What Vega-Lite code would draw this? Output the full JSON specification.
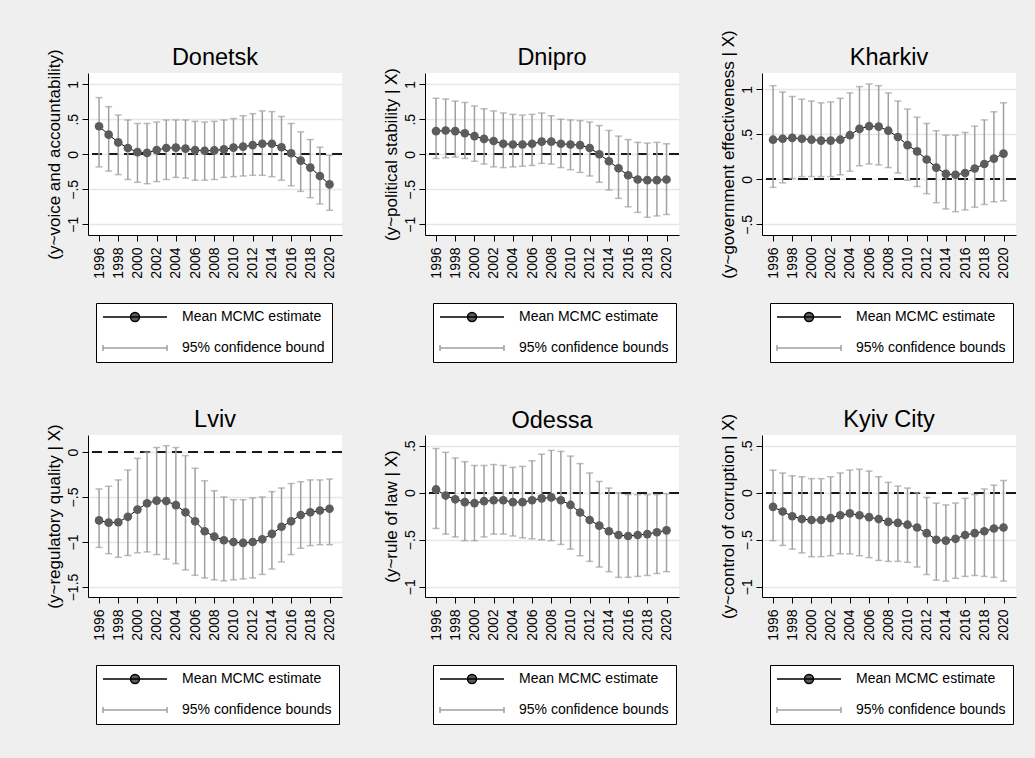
{
"$schema": "https://vega.github.io/schema/vega-lite/v6.json",
"padding": {"left": 44, "top": 29, "right": 20, "bottom": 40},
"datasets": {"d": [
{"region":"Donetsk","year":1996,"mean":0.40,"lo":-0.18,"hi":0.81},
{"region":"Donetsk","year":1997,"mean":0.28,"lo":-0.24,"hi":0.68},
{"region":"Donetsk","year":1998,"mean":0.17,"lo":-0.29,"hi":0.56},
{"region":"Donetsk","year":1999,"mean":0.09,"lo":-0.36,"hi":0.49},
{"region":"Donetsk","year":2000,"mean":0.03,"lo":-0.40,"hi":0.44},
{"region":"Donetsk","year":2001,"mean":0.02,"lo":-0.42,"hi":0.44},
{"region":"Donetsk","year":2002,"mean":0.06,"lo":-0.39,"hi":0.46},
{"region":"Donetsk","year":2003,"mean":0.09,"lo":-0.36,"hi":0.49},
{"region":"Donetsk","year":2004,"mean":0.095,"lo":-0.33,"hi":0.49},
{"region":"Donetsk","year":2005,"mean":0.08,"lo":-0.34,"hi":0.49},
{"region":"Donetsk","year":2006,"mean":0.06,"lo":-0.37,"hi":0.47},
{"region":"Donetsk","year":2007,"mean":0.05,"lo":-0.37,"hi":0.46},
{"region":"Donetsk","year":2008,"mean":0.055,"lo":-0.36,"hi":0.47},
{"region":"Donetsk","year":2009,"mean":0.07,"lo":-0.33,"hi":0.49},
{"region":"Donetsk","year":2010,"mean":0.095,"lo":-0.32,"hi":0.51},
{"region":"Donetsk","year":2011,"mean":0.11,"lo":-0.31,"hi":0.55},
{"region":"Donetsk","year":2012,"mean":0.13,"lo":-0.30,"hi":0.58},
{"region":"Donetsk","year":2013,"mean":0.15,"lo":-0.30,"hi":0.62},
{"region":"Donetsk","year":2014,"mean":0.15,"lo":-0.32,"hi":0.61},
{"region":"Donetsk","year":2015,"mean":0.10,"lo":-0.37,"hi":0.54},
{"region":"Donetsk","year":2016,"mean":0.015,"lo":-0.45,"hi":0.44},
{"region":"Donetsk","year":2017,"mean":-0.09,"lo":-0.53,"hi":0.32},
{"region":"Donetsk","year":2018,"mean":-0.19,"lo":-0.62,"hi":0.21},
{"region":"Donetsk","year":2019,"mean":-0.31,"lo":-0.71,"hi":0.10},
{"region":"Donetsk","year":2020,"mean":-0.43,"lo":-0.80,"hi":-0.015},
{"region":"Dnipro","year":1996,"mean":0.33,"lo":-0.06,"hi":0.80},
{"region":"Dnipro","year":1997,"mean":0.34,"lo":-0.05,"hi":0.79},
{"region":"Dnipro","year":1998,"mean":0.33,"lo":-0.04,"hi":0.76},
{"region":"Dnipro","year":1999,"mean":0.30,"lo":-0.06,"hi":0.74},
{"region":"Dnipro","year":2000,"mean":0.26,"lo":-0.10,"hi":0.69},
{"region":"Dnipro","year":2001,"mean":0.22,"lo":-0.14,"hi":0.65},
{"region":"Dnipro","year":2002,"mean":0.19,"lo":-0.18,"hi":0.62},
{"region":"Dnipro","year":2003,"mean":0.15,"lo":-0.19,"hi":0.59},
{"region":"Dnipro","year":2004,"mean":0.14,"lo":-0.18,"hi":0.57},
{"region":"Dnipro","year":2005,"mean":0.14,"lo":-0.17,"hi":0.56},
{"region":"Dnipro","year":2006,"mean":0.15,"lo":-0.16,"hi":0.57},
{"region":"Dnipro","year":2007,"mean":0.18,"lo":-0.13,"hi":0.59},
{"region":"Dnipro","year":2008,"mean":0.18,"lo":-0.14,"hi":0.55},
{"region":"Dnipro","year":2009,"mean":0.15,"lo":-0.19,"hi":0.50},
{"region":"Dnipro","year":2010,"mean":0.14,"lo":-0.22,"hi":0.49},
{"region":"Dnipro","year":2011,"mean":0.13,"lo":-0.26,"hi":0.48},
{"region":"Dnipro","year":2012,"mean":0.09,"lo":-0.31,"hi":0.46},
{"region":"Dnipro","year":2013,"mean":0.00,"lo":-0.40,"hi":0.41},
{"region":"Dnipro","year":2014,"mean":-0.10,"lo":-0.51,"hi":0.34},
{"region":"Dnipro","year":2015,"mean":-0.20,"lo":-0.63,"hi":0.26},
{"region":"Dnipro","year":2016,"mean":-0.30,"lo":-0.75,"hi":0.21},
{"region":"Dnipro","year":2017,"mean":-0.36,"lo":-0.83,"hi":0.17},
{"region":"Dnipro","year":2018,"mean":-0.37,"lo":-0.90,"hi":0.16},
{"region":"Dnipro","year":2019,"mean":-0.37,"lo":-0.88,"hi":0.17},
{"region":"Dnipro","year":2020,"mean":-0.36,"lo":-0.86,"hi":0.15},
{"region":"Kharkiv","year":1996,"mean":0.44,"lo":-0.09,"hi":1.04},
{"region":"Kharkiv","year":1997,"mean":0.45,"lo":-0.04,"hi":0.97},
{"region":"Kharkiv","year":1998,"mean":0.46,"lo":0.01,"hi":0.92},
{"region":"Kharkiv","year":1999,"mean":0.45,"lo":0.03,"hi":0.89},
{"region":"Kharkiv","year":2000,"mean":0.44,"lo":0.03,"hi":0.87},
{"region":"Kharkiv","year":2001,"mean":0.43,"lo":0.03,"hi":0.85},
{"region":"Kharkiv","year":2002,"mean":0.43,"lo":0.03,"hi":0.86},
{"region":"Kharkiv","year":2003,"mean":0.44,"lo":0.05,"hi":0.90},
{"region":"Kharkiv","year":2004,"mean":0.49,"lo":0.09,"hi":0.96},
{"region":"Kharkiv","year":2005,"mean":0.56,"lo":0.15,"hi":1.03},
{"region":"Kharkiv","year":2006,"mean":0.59,"lo":0.17,"hi":1.06},
{"region":"Kharkiv","year":2007,"mean":0.585,"lo":0.16,"hi":1.04},
{"region":"Kharkiv","year":2008,"mean":0.54,"lo":0.13,"hi":0.96},
{"region":"Kharkiv","year":2009,"mean":0.47,"lo":0.07,"hi":0.87},
{"region":"Kharkiv","year":2010,"mean":0.38,"lo":-0.01,"hi":0.78},
{"region":"Kharkiv","year":2011,"mean":0.31,"lo":-0.08,"hi":0.69},
{"region":"Kharkiv","year":2012,"mean":0.22,"lo":-0.16,"hi":0.62},
{"region":"Kharkiv","year":2013,"mean":0.13,"lo":-0.26,"hi":0.54},
{"region":"Kharkiv","year":2014,"mean":0.06,"lo":-0.33,"hi":0.49},
{"region":"Kharkiv","year":2015,"mean":0.05,"lo":-0.36,"hi":0.49},
{"region":"Kharkiv","year":2016,"mean":0.07,"lo":-0.34,"hi":0.52},
{"region":"Kharkiv","year":2017,"mean":0.12,"lo":-0.31,"hi":0.59},
{"region":"Kharkiv","year":2018,"mean":0.17,"lo":-0.28,"hi":0.66},
{"region":"Kharkiv","year":2019,"mean":0.23,"lo":-0.25,"hi":0.75},
{"region":"Kharkiv","year":2020,"mean":0.285,"lo":-0.24,"hi":0.85},
{"region":"Lviv","year":1996,"mean":-0.76,"lo":-1.06,"hi":-0.41},
{"region":"Lviv","year":1997,"mean":-0.785,"lo":-1.13,"hi":-0.38},
{"region":"Lviv","year":1998,"mean":-0.78,"lo":-1.17,"hi":-0.31},
{"region":"Lviv","year":1999,"mean":-0.72,"lo":-1.15,"hi":-0.20},
{"region":"Lviv","year":2000,"mean":-0.64,"lo":-1.12,"hi":-0.07},
{"region":"Lviv","year":2001,"mean":-0.57,"lo":-1.11,"hi":0.00},
{"region":"Lviv","year":2002,"mean":-0.54,"lo":-1.14,"hi":0.05},
{"region":"Lviv","year":2003,"mean":-0.545,"lo":-1.19,"hi":0.07},
{"region":"Lviv","year":2004,"mean":-0.59,"lo":-1.24,"hi":0.05},
{"region":"Lviv","year":2005,"mean":-0.67,"lo":-1.31,"hi":-0.04},
{"region":"Lviv","year":2006,"mean":-0.77,"lo":-1.37,"hi":-0.18},
{"region":"Lviv","year":2007,"mean":-0.88,"lo":-1.40,"hi":-0.32},
{"region":"Lviv","year":2008,"mean":-0.94,"lo":-1.42,"hi":-0.43},
{"region":"Lviv","year":2009,"mean":-0.98,"lo":-1.43,"hi":-0.50},
{"region":"Lviv","year":2010,"mean":-1.00,"lo":-1.42,"hi":-0.53},
{"region":"Lviv","year":2011,"mean":-1.01,"lo":-1.41,"hi":-0.53},
{"region":"Lviv","year":2012,"mean":-1.00,"lo":-1.40,"hi":-0.51},
{"region":"Lviv","year":2013,"mean":-0.97,"lo":-1.36,"hi":-0.50},
{"region":"Lviv","year":2014,"mean":-0.91,"lo":-1.30,"hi":-0.44},
{"region":"Lviv","year":2015,"mean":-0.83,"lo":-1.22,"hi":-0.40},
{"region":"Lviv","year":2016,"mean":-0.77,"lo":-1.14,"hi":-0.35},
{"region":"Lviv","year":2017,"mean":-0.70,"lo":-1.07,"hi":-0.33},
{"region":"Lviv","year":2018,"mean":-0.67,"lo":-1.04,"hi":-0.31},
{"region":"Lviv","year":2019,"mean":-0.65,"lo":-1.03,"hi":-0.31},
{"region":"Lviv","year":2020,"mean":-0.63,"lo":-1.03,"hi":-0.30},
{"region":"Odessa","year":1996,"mean":0.035,"lo":-0.38,"hi":0.47},
{"region":"Odessa","year":1997,"mean":-0.03,"lo":-0.44,"hi":0.43},
{"region":"Odessa","year":1998,"mean":-0.07,"lo":-0.47,"hi":0.37},
{"region":"Odessa","year":1999,"mean":-0.10,"lo":-0.51,"hi":0.33},
{"region":"Odessa","year":2000,"mean":-0.11,"lo":-0.51,"hi":0.29},
{"region":"Odessa","year":2001,"mean":-0.09,"lo":-0.47,"hi":0.29},
{"region":"Odessa","year":2002,"mean":-0.08,"lo":-0.44,"hi":0.30},
{"region":"Odessa","year":2003,"mean":-0.08,"lo":-0.44,"hi":0.29},
{"region":"Odessa","year":2004,"mean":-0.10,"lo":-0.46,"hi":0.27},
{"region":"Odessa","year":2005,"mean":-0.10,"lo":-0.48,"hi":0.28},
{"region":"Odessa","year":2006,"mean":-0.08,"lo":-0.49,"hi":0.34},
{"region":"Odessa","year":2007,"mean":-0.06,"lo":-0.50,"hi":0.41},
{"region":"Odessa","year":2008,"mean":-0.05,"lo":-0.51,"hi":0.45},
{"region":"Odessa","year":2009,"mean":-0.08,"lo":-0.55,"hi":0.44},
{"region":"Odessa","year":2010,"mean":-0.13,"lo":-0.60,"hi":0.39},
{"region":"Odessa","year":2011,"mean":-0.21,"lo":-0.67,"hi":0.31},
{"region":"Odessa","year":2012,"mean":-0.29,"lo":-0.73,"hi":0.21},
{"region":"Odessa","year":2013,"mean":-0.35,"lo":-0.79,"hi":0.12},
{"region":"Odessa","year":2014,"mean":-0.41,"lo":-0.84,"hi":0.05},
{"region":"Odessa","year":2015,"mean":-0.45,"lo":-0.90,"hi":0.00},
{"region":"Odessa","year":2016,"mean":-0.46,"lo":-0.90,"hi":-0.02},
{"region":"Odessa","year":2017,"mean":-0.45,"lo":-0.89,"hi":-0.02},
{"region":"Odessa","year":2018,"mean":-0.44,"lo":-0.88,"hi":-0.02},
{"region":"Odessa","year":2019,"mean":-0.42,"lo":-0.86,"hi":-0.02},
{"region":"Odessa","year":2020,"mean":-0.40,"lo":-0.84,"hi":-0.01},
{"region":"Kyiv City","year":1996,"mean":-0.15,"lo":-0.51,"hi":0.24},
{"region":"Kyiv City","year":1997,"mean":-0.20,"lo":-0.56,"hi":0.21},
{"region":"Kyiv City","year":1998,"mean":-0.25,"lo":-0.60,"hi":0.18},
{"region":"Kyiv City","year":1999,"mean":-0.28,"lo":-0.64,"hi":0.17},
{"region":"Kyiv City","year":2000,"mean":-0.29,"lo":-0.68,"hi":0.15},
{"region":"Kyiv City","year":2001,"mean":-0.29,"lo":-0.68,"hi":0.15},
{"region":"Kyiv City","year":2002,"mean":-0.27,"lo":-0.67,"hi":0.17},
{"region":"Kyiv City","year":2003,"mean":-0.24,"lo":-0.65,"hi":0.21},
{"region":"Kyiv City","year":2004,"mean":-0.22,"lo":-0.65,"hi":0.24},
{"region":"Kyiv City","year":2005,"mean":-0.24,"lo":-0.67,"hi":0.25},
{"region":"Kyiv City","year":2006,"mean":-0.26,"lo":-0.69,"hi":0.23},
{"region":"Kyiv City","year":2007,"mean":-0.28,"lo":-0.72,"hi":0.17},
{"region":"Kyiv City","year":2008,"mean":-0.31,"lo":-0.73,"hi":0.11},
{"region":"Kyiv City","year":2009,"mean":-0.32,"lo":-0.73,"hi":0.07},
{"region":"Kyiv City","year":2010,"mean":-0.34,"lo":-0.74,"hi":0.05},
{"region":"Kyiv City","year":2011,"mean":-0.37,"lo":-0.79,"hi":0.00},
{"region":"Kyiv City","year":2012,"mean":-0.43,"lo":-0.87,"hi":-0.05},
{"region":"Kyiv City","year":2013,"mean":-0.50,"lo":-0.93,"hi":-0.11},
{"region":"Kyiv City","year":2014,"mean":-0.51,"lo":-0.94,"hi":-0.13},
{"region":"Kyiv City","year":2015,"mean":-0.49,"lo":-0.91,"hi":-0.11},
{"region":"Kyiv City","year":2016,"mean":-0.45,"lo":-0.89,"hi":-0.06},
{"region":"Kyiv City","year":2017,"mean":-0.43,"lo":-0.88,"hi":-0.02},
{"region":"Kyiv City","year":2018,"mean":-0.41,"lo":-0.89,"hi":0.04},
{"region":"Kyiv City","year":2019,"mean":-0.38,"lo":-0.90,"hi":0.08},
{"region":"Kyiv City","year":2020,"mean":-0.37,"lo":-0.94,"hi":0.13}
]},
"data": {"name": "d"},
"columns": 3,
"spacing": {"row": 200, "column": 83},
"bounds": "flush",
"resolve": {"scale": {"y": "independent", "stroke": "independent"}, "legend": {"stroke": "independent"}},
"concat": [
{"title": {"text": "Donetsk", "offset": -21}, "width": 254, "height": 162,
 "transform": [{"filter": "datum.region == 'Donetsk'"}],
 "layer": [
  {"mark": {"type": "rule", "strokeDash": [10, 6], "color": "#1a1a1a", "strokeWidth": 1},
   "encoding": {"y": {"datum": 0, "type": "quantitative", "scale": {"domain": [-1.153, 1.161], "nice": false, "zero": false}, "axis": {"title": "(y~voice and accountability)", "values": [-1, -0.5, 0, 0.5, 1]}}}},
  {"mark": {"type": "rule", "strokeWidth": 1.5},
   "encoding": {"x": {"field": "year", "type": "quantitative", "scale": {"domain": [1994.85, 2021.3], "nice": false, "zero": false}, "axis": {"values": [1996,1998,2000,2002,2004,2006,2008,2010,2012,2014,2016,2018,2020], "format": "d", "title": null}},
    "y": {"field": "lo", "type": "quantitative", "scale": {"domain": [-1.153, 1.161], "nice": false, "zero": false}},
    "y2": {"field": "hi"},
    "stroke": {"datum": "95% confidence bound", "scale": {"domain": ["Mean MCMC estimate", "95% confidence bound"], "range": ["black", "#a0a0a0"]},
      "legend": {"title": null, "orient": "none", "legendX": 8, "legendY": 230, "direction": "vertical", "symbolType": "M-16,0H16",
        "encode": {"symbols": {"update": {
          "shape": {"signal": "datum.value == 'Mean MCMC estimate' ? 'M-16,0H16M2.25,0A2.25,2.25 0 1,1 -2.25,0A2.25,2.25 0 1,1 2.25,0Z' : 'M-16,-1.5V1.5M-16,0H16M16,-1.5V1.5'"},
          "fill": {"signal": "datum.value == 'Mean MCMC estimate' ? '#5c5c5c' : 'transparent'"},
          "stroke": {"signal": "datum.value == 'Mean MCMC estimate' ? 'black' : '#a0a0a0'"},
          "opacity": {"value": 1}}}}}}}},
  {"mark": {"type": "tick", "orient": "horizontal", "size": 7, "thickness": 1.5, "color": "#a0a0a0"},
   "encoding": {"x": {"field": "year", "type": "quantitative", "scale": {"domain": [1994.85, 2021.3], "nice": false, "zero": false}, "axis": {"values": [1996,1998,2000,2002,2004,2006,2008,2010,2012,2014,2016,2018,2020], "format": "d", "title": null}},
    "y": {"field": "lo", "type": "quantitative", "scale": {"domain": [-1.153, 1.161], "nice": false, "zero": false}}}},
  {"mark": {"type": "tick", "orient": "horizontal", "size": 7, "thickness": 1.5, "color": "#a0a0a0"},
   "encoding": {"x": {"field": "year", "type": "quantitative", "scale": {"domain": [1994.85, 2021.3], "nice": false, "zero": false}, "axis": {"values": [1996,1998,2000,2002,2004,2006,2008,2010,2012,2014,2016,2018,2020], "format": "d", "title": null}},
    "y": {"field": "hi", "type": "quantitative", "scale": {"domain": [-1.153, 1.161], "nice": false, "zero": false}}}},
  {"mark": {"type": "line", "strokeWidth": 1},
   "encoding": {"x": {"field": "year", "type": "quantitative", "scale": {"domain": [1994.85, 2021.3], "nice": false, "zero": false}, "axis": {"values": [1996,1998,2000,2002,2004,2006,2008,2010,2012,2014,2016,2018,2020], "format": "d", "title": null}},
    "y": {"field": "mean", "type": "quantitative", "scale": {"domain": [-1.153, 1.161], "nice": false, "zero": false}},
    "stroke": {"datum": "Mean MCMC estimate"}}},
  {"mark": {"type": "point", "filled": true, "size": 75, "color": "#5c5c5c", "opacity": 1},
   "encoding": {"x": {"field": "year", "type": "quantitative", "scale": {"domain": [1994.85, 2021.3], "nice": false, "zero": false}, "axis": {"values": [1996,1998,2000,2002,2004,2006,2008,2010,2012,2014,2016,2018,2020], "format": "d", "title": null}},
    "y": {"field": "mean", "type": "quantitative", "scale": {"domain": [-1.153, 1.161], "nice": false, "zero": false}}}}
 ]},
{"title": {"text": "Dnipro", "offset": -2.5}, "width": 254, "height": 162,
 "transform": [{"filter": "datum.region == 'Dnipro'"}],
 "layer": [
  {"mark": {"type": "rule", "strokeDash": [10, 6], "color": "#1a1a1a", "strokeWidth": 1},
   "encoding": {"y": {"datum": 0, "type": "quantitative", "scale": {"domain": [-1.153, 1.161], "nice": false, "zero": false}, "axis": {"title": "(y~political stability | X)", "values": [-1, -0.5, 0, 0.5, 1]}}}},
  {"mark": {"type": "rule", "strokeWidth": 1.5},
   "encoding": {"x": {"field": "year", "type": "quantitative", "scale": {"domain": [1994.85, 2021.3], "nice": false, "zero": false}, "axis": {"values": [1996,1998,2000,2002,2004,2006,2008,2010,2012,2014,2016,2018,2020], "format": "d", "title": null}},
    "y": {"field": "lo", "type": "quantitative", "scale": {"domain": [-1.153, 1.161], "nice": false, "zero": false}},
    "y2": {"field": "hi"},
    "stroke": {"datum": "95% confidence bounds", "scale": {"domain": ["Mean MCMC estimate", "95% confidence bounds"], "range": ["black", "#a0a0a0"]},
      "legend": {"title": null, "orient": "none", "legendX": 8, "legendY": 230, "direction": "vertical", "symbolType": "M-16,0H16",
        "encode": {"symbols": {"update": {
          "shape": {"signal": "datum.value == 'Mean MCMC estimate' ? 'M-16,0H16M2.25,0A2.25,2.25 0 1,1 -2.25,0A2.25,2.25 0 1,1 2.25,0Z' : 'M-16,-1.5V1.5M-16,0H16M16,-1.5V1.5'"},
          "fill": {"signal": "datum.value == 'Mean MCMC estimate' ? '#5c5c5c' : 'transparent'"},
          "stroke": {"signal": "datum.value == 'Mean MCMC estimate' ? 'black' : '#a0a0a0'"},
          "opacity": {"value": 1}}}}}}}},
  {"mark": {"type": "tick", "orient": "horizontal", "size": 7, "thickness": 1.5, "color": "#a0a0a0"},
   "encoding": {"x": {"field": "year", "type": "quantitative", "scale": {"domain": [1994.85, 2021.3], "nice": false, "zero": false}, "axis": {"values": [1996,1998,2000,2002,2004,2006,2008,2010,2012,2014,2016,2018,2020], "format": "d", "title": null}},
    "y": {"field": "lo", "type": "quantitative", "scale": {"domain": [-1.153, 1.161], "nice": false, "zero": false}}}},
  {"mark": {"type": "tick", "orient": "horizontal", "size": 7, "thickness": 1.5, "color": "#a0a0a0"},
   "encoding": {"x": {"field": "year", "type": "quantitative", "scale": {"domain": [1994.85, 2021.3], "nice": false, "zero": false}, "axis": {"values": [1996,1998,2000,2002,2004,2006,2008,2010,2012,2014,2016,2018,2020], "format": "d", "title": null}},
    "y": {"field": "hi", "type": "quantitative", "scale": {"domain": [-1.153, 1.161], "nice": false, "zero": false}}}},
  {"mark": {"type": "line", "strokeWidth": 1},
   "encoding": {"x": {"field": "year", "type": "quantitative", "scale": {"domain": [1994.85, 2021.3], "nice": false, "zero": false}, "axis": {"values": [1996,1998,2000,2002,2004,2006,2008,2010,2012,2014,2016,2018,2020], "format": "d", "title": null}},
    "y": {"field": "mean", "type": "quantitative", "scale": {"domain": [-1.153, 1.161], "nice": false, "zero": false}},
    "stroke": {"datum": "Mean MCMC estimate"}}},
  {"mark": {"type": "point", "filled": true, "size": 75, "color": "#5c5c5c", "opacity": 1},
   "encoding": {"x": {"field": "year", "type": "quantitative", "scale": {"domain": [1994.85, 2021.3], "nice": false, "zero": false}, "axis": {"values": [1996,1998,2000,2002,2004,2006,2008,2010,2012,2014,2016,2018,2020], "format": "d", "title": null}},
    "y": {"field": "mean", "type": "quantitative", "scale": {"domain": [-1.153, 1.161], "nice": false, "zero": false}}}}
 ]},
{"title": {"text": "Kharkiv", "offset": -40}, "width": 254, "height": 162,
 "transform": [{"filter": "datum.region == 'Kharkiv'"}],
 "layer": [
  {"mark": {"type": "rule", "strokeDash": [10, 6], "color": "#1a1a1a", "strokeWidth": 1},
   "encoding": {"y": {"datum": 0, "type": "quantitative", "scale": {"domain": [-0.619, 1.181], "nice": false, "zero": false}, "axis": {"title": "(y~government effectiveness | X)", "values": [-0.5, 0, 0.5, 1]}}}},
  {"mark": {"type": "rule", "strokeWidth": 1.5},
   "encoding": {"x": {"field": "year", "type": "quantitative", "scale": {"domain": [1994.85, 2021.3], "nice": false, "zero": false}, "axis": {"values": [1996,1998,2000,2002,2004,2006,2008,2010,2012,2014,2016,2018,2020], "format": "d", "title": null}},
    "y": {"field": "lo", "type": "quantitative", "scale": {"domain": [-0.619, 1.181], "nice": false, "zero": false}},
    "y2": {"field": "hi"},
    "stroke": {"datum": "95% confidence bounds", "scale": {"domain": ["Mean MCMC estimate", "95% confidence bounds"], "range": ["black", "#a0a0a0"]},
      "legend": {"title": null, "orient": "none", "legendX": 8, "legendY": 230, "direction": "vertical", "symbolType": "M-16,0H16",
        "encode": {"symbols": {"update": {
          "shape": {"signal": "datum.value == 'Mean MCMC estimate' ? 'M-16,0H16M2.25,0A2.25,2.25 0 1,1 -2.25,0A2.25,2.25 0 1,1 2.25,0Z' : 'M-16,-1.5V1.5M-16,0H16M16,-1.5V1.5'"},
          "fill": {"signal": "datum.value == 'Mean MCMC estimate' ? '#5c5c5c' : 'transparent'"},
          "stroke": {"signal": "datum.value == 'Mean MCMC estimate' ? 'black' : '#a0a0a0'"},
          "opacity": {"value": 1}}}}}}}},
  {"mark": {"type": "tick", "orient": "horizontal", "size": 7, "thickness": 1.5, "color": "#a0a0a0"},
   "encoding": {"x": {"field": "year", "type": "quantitative", "scale": {"domain": [1994.85, 2021.3], "nice": false, "zero": false}, "axis": {"values": [1996,1998,2000,2002,2004,2006,2008,2010,2012,2014,2016,2018,2020], "format": "d", "title": null}},
    "y": {"field": "lo", "type": "quantitative", "scale": {"domain": [-0.619, 1.181], "nice": false, "zero": false}}}},
  {"mark": {"type": "tick", "orient": "horizontal", "size": 7, "thickness": 1.5, "color": "#a0a0a0"},
   "encoding": {"x": {"field": "year", "type": "quantitative", "scale": {"domain": [1994.85, 2021.3], "nice": false, "zero": false}, "axis": {"values": [1996,1998,2000,2002,2004,2006,2008,2010,2012,2014,2016,2018,2020], "format": "d", "title": null}},
    "y": {"field": "hi", "type": "quantitative", "scale": {"domain": [-0.619, 1.181], "nice": false, "zero": false}}}},
  {"mark": {"type": "line", "strokeWidth": 1},
   "encoding": {"x": {"field": "year", "type": "quantitative", "scale": {"domain": [1994.85, 2021.3], "nice": false, "zero": false}, "axis": {"values": [1996,1998,2000,2002,2004,2006,2008,2010,2012,2014,2016,2018,2020], "format": "d", "title": null}},
    "y": {"field": "mean", "type": "quantitative", "scale": {"domain": [-0.619, 1.181], "nice": false, "zero": false}},
    "stroke": {"datum": "Mean MCMC estimate"}}},
  {"mark": {"type": "point", "filled": true, "size": 75, "color": "#5c5c5c", "opacity": 1},
   "encoding": {"x": {"field": "year", "type": "quantitative", "scale": {"domain": [1994.85, 2021.3], "nice": false, "zero": false}, "axis": {"values": [1996,1998,2000,2002,2004,2006,2008,2010,2012,2014,2016,2018,2020], "format": "d", "title": null}},
    "y": {"field": "mean", "type": "quantitative", "scale": {"domain": [-0.619, 1.181], "nice": false, "zero": false}}}}
 ]},
{"title": {"text": "Lviv", "offset": -8}, "width": 254, "height": 162,
 "transform": [{"filter": "datum.region == 'Lviv'"}],
 "layer": [
  {"mark": {"type": "rule", "strokeDash": [10, 6], "color": "#1a1a1a", "strokeWidth": 1},
   "encoding": {"y": {"datum": 0, "type": "quantitative", "scale": {"domain": [-1.611, 0.189], "nice": false, "zero": false}, "axis": {"title": "(y~regulatory quality | X)", "values": [-1.5, -1, -0.5, 0]}}}},
  {"mark": {"type": "rule", "strokeWidth": 1.5},
   "encoding": {"x": {"field": "year", "type": "quantitative", "scale": {"domain": [1994.85, 2021.3], "nice": false, "zero": false}, "axis": {"values": [1996,1998,2000,2002,2004,2006,2008,2010,2012,2014,2016,2018,2020], "format": "d", "title": null}},
    "y": {"field": "lo", "type": "quantitative", "scale": {"domain": [-1.611, 0.189], "nice": false, "zero": false}},
    "y2": {"field": "hi"},
    "stroke": {"datum": "95% confidence bounds", "scale": {"domain": ["Mean MCMC estimate", "95% confidence bounds"], "range": ["black", "#a0a0a0"]},
      "legend": {"title": null, "orient": "none", "legendX": 8, "legendY": 230, "direction": "vertical", "symbolType": "M-16,0H16",
        "encode": {"symbols": {"update": {
          "shape": {"signal": "datum.value == 'Mean MCMC estimate' ? 'M-16,0H16M2.25,0A2.25,2.25 0 1,1 -2.25,0A2.25,2.25 0 1,1 2.25,0Z' : 'M-16,-1.5V1.5M-16,0H16M16,-1.5V1.5'"},
          "fill": {"signal": "datum.value == 'Mean MCMC estimate' ? '#5c5c5c' : 'transparent'"},
          "stroke": {"signal": "datum.value == 'Mean MCMC estimate' ? 'black' : '#a0a0a0'"},
          "opacity": {"value": 1}}}}}}}},
  {"mark": {"type": "tick", "orient": "horizontal", "size": 7, "thickness": 1.5, "color": "#a0a0a0"},
   "encoding": {"x": {"field": "year", "type": "quantitative", "scale": {"domain": [1994.85, 2021.3], "nice": false, "zero": false}, "axis": {"values": [1996,1998,2000,2002,2004,2006,2008,2010,2012,2014,2016,2018,2020], "format": "d", "title": null}},
    "y": {"field": "lo", "type": "quantitative", "scale": {"domain": [-1.611, 0.189], "nice": false, "zero": false}}}},
  {"mark": {"type": "tick", "orient": "horizontal", "size": 7, "thickness": 1.5, "color": "#a0a0a0"},
   "encoding": {"x": {"field": "year", "type": "quantitative", "scale": {"domain": [1994.85, 2021.3], "nice": false, "zero": false}, "axis": {"values": [1996,1998,2000,2002,2004,2006,2008,2010,2012,2014,2016,2018,2020], "format": "d", "title": null}},
    "y": {"field": "hi", "type": "quantitative", "scale": {"domain": [-1.611, 0.189], "nice": false, "zero": false}}}},
  {"mark": {"type": "line", "strokeWidth": 1},
   "encoding": {"x": {"field": "year", "type": "quantitative", "scale": {"domain": [1994.85, 2021.3], "nice": false, "zero": false}, "axis": {"values": [1996,1998,2000,2002,2004,2006,2008,2010,2012,2014,2016,2018,2020], "format": "d", "title": null}},
    "y": {"field": "mean", "type": "quantitative", "scale": {"domain": [-1.611, 0.189], "nice": false, "zero": false}},
    "stroke": {"datum": "Mean MCMC estimate"}}},
  {"mark": {"type": "point", "filled": true, "size": 75, "color": "#5c5c5c", "opacity": 1},
   "encoding": {"x": {"field": "year", "type": "quantitative", "scale": {"domain": [1994.85, 2021.3], "nice": false, "zero": false}, "axis": {"values": [1996,1998,2000,2002,2004,2006,2008,2010,2012,2014,2016,2018,2020], "format": "d", "title": null}},
    "y": {"field": "mean", "type": "quantitative", "scale": {"domain": [-1.611, 0.189], "nice": false, "zero": false}}}}
 ]},
{"title": {"text": "Odessa", "offset": 3}, "width": 254, "height": 162,
 "transform": [{"filter": "datum.region == 'Odessa'"}],
 "layer": [
  {"mark": {"type": "rule", "strokeDash": [10, 6], "color": "#1a1a1a", "strokeWidth": 1},
   "encoding": {"y": {"datum": 0, "type": "quantitative", "scale": {"domain": [-1.109, 0.614], "nice": false, "zero": false}, "axis": {"title": "(y~rule of law | X)", "values": [-1, -0.5, 0, 0.5]}}}},
  {"mark": {"type": "rule", "strokeWidth": 1.5},
   "encoding": {"x": {"field": "year", "type": "quantitative", "scale": {"domain": [1994.85, 2021.3], "nice": false, "zero": false}, "axis": {"values": [1996,1998,2000,2002,2004,2006,2008,2010,2012,2014,2016,2018,2020], "format": "d", "title": null}},
    "y": {"field": "lo", "type": "quantitative", "scale": {"domain": [-1.109, 0.614], "nice": false, "zero": false}},
    "y2": {"field": "hi"},
    "stroke": {"datum": "95% confidence bounds", "scale": {"domain": ["Mean MCMC estimate", "95% confidence bounds"], "range": ["black", "#a0a0a0"]},
      "legend": {"title": null, "orient": "none", "legendX": 8, "legendY": 230, "direction": "vertical", "symbolType": "M-16,0H16",
        "encode": {"symbols": {"update": {
          "shape": {"signal": "datum.value == 'Mean MCMC estimate' ? 'M-16,0H16M2.25,0A2.25,2.25 0 1,1 -2.25,0A2.25,2.25 0 1,1 2.25,0Z' : 'M-16,-1.5V1.5M-16,0H16M16,-1.5V1.5'"},
          "fill": {"signal": "datum.value == 'Mean MCMC estimate' ? '#5c5c5c' : 'transparent'"},
          "stroke": {"signal": "datum.value == 'Mean MCMC estimate' ? 'black' : '#a0a0a0'"},
          "opacity": {"value": 1}}}}}}}},
  {"mark": {"type": "tick", "orient": "horizontal", "size": 7, "thickness": 1.5, "color": "#a0a0a0"},
   "encoding": {"x": {"field": "year", "type": "quantitative", "scale": {"domain": [1994.85, 2021.3], "nice": false, "zero": false}, "axis": {"values": [1996,1998,2000,2002,2004,2006,2008,2010,2012,2014,2016,2018,2020], "format": "d", "title": null}},
    "y": {"field": "lo", "type": "quantitative", "scale": {"domain": [-1.109, 0.614], "nice": false, "zero": false}}}},
  {"mark": {"type": "tick", "orient": "horizontal", "size": 7, "thickness": 1.5, "color": "#a0a0a0"},
   "encoding": {"x": {"field": "year", "type": "quantitative", "scale": {"domain": [1994.85, 2021.3], "nice": false, "zero": false}, "axis": {"values": [1996,1998,2000,2002,2004,2006,2008,2010,2012,2014,2016,2018,2020], "format": "d", "title": null}},
    "y": {"field": "hi", "type": "quantitative", "scale": {"domain": [-1.109, 0.614], "nice": false, "zero": false}}}},
  {"mark": {"type": "line", "strokeWidth": 1},
   "encoding": {"x": {"field": "year", "type": "quantitative", "scale": {"domain": [1994.85, 2021.3], "nice": false, "zero": false}, "axis": {"values": [1996,1998,2000,2002,2004,2006,2008,2010,2012,2014,2016,2018,2020], "format": "d", "title": null}},
    "y": {"field": "mean", "type": "quantitative", "scale": {"domain": [-1.109, 0.614], "nice": false, "zero": false}},
    "stroke": {"datum": "Mean MCMC estimate"}}},
  {"mark": {"type": "point", "filled": true, "size": 75, "color": "#5c5c5c", "opacity": 1},
   "encoding": {"x": {"field": "year", "type": "quantitative", "scale": {"domain": [1994.85, 2021.3], "nice": false, "zero": false}, "axis": {"values": [1996,1998,2000,2002,2004,2006,2008,2010,2012,2014,2016,2018,2020], "format": "d", "title": null}},
    "y": {"field": "mean", "type": "quantitative", "scale": {"domain": [-1.109, 0.614], "nice": false, "zero": false}}}}
 ]},
{"title": {"text": "Kyiv City", "offset": -18.5}, "width": 254, "height": 162,
 "transform": [{"filter": "datum.region == 'Kyiv City'"}],
 "layer": [
  {"mark": {"type": "rule", "strokeDash": [10, 6], "color": "#1a1a1a", "strokeWidth": 1},
   "encoding": {"y": {"datum": 0, "type": "quantitative", "scale": {"domain": [-1.109, 0.614], "nice": false, "zero": false}, "axis": {"title": "(y~control of corruption | X)", "values": [-1, -0.5, 0, 0.5]}}}},
  {"mark": {"type": "rule", "strokeWidth": 1.5},
   "encoding": {"x": {"field": "year", "type": "quantitative", "scale": {"domain": [1994.85, 2021.3], "nice": false, "zero": false}, "axis": {"values": [1996,1998,2000,2002,2004,2006,2008,2010,2012,2014,2016,2018,2020], "format": "d", "title": null}},
    "y": {"field": "lo", "type": "quantitative", "scale": {"domain": [-1.109, 0.614], "nice": false, "zero": false}},
    "y2": {"field": "hi"},
    "stroke": {"datum": "95% confidence bounds", "scale": {"domain": ["Mean MCMC estimate", "95% confidence bounds"], "range": ["black", "#a0a0a0"]},
      "legend": {"title": null, "orient": "none", "legendX": 8, "legendY": 230, "direction": "vertical", "symbolType": "M-16,0H16",
        "encode": {"symbols": {"update": {
          "shape": {"signal": "datum.value == 'Mean MCMC estimate' ? 'M-16,0H16M2.25,0A2.25,2.25 0 1,1 -2.25,0A2.25,2.25 0 1,1 2.25,0Z' : 'M-16,-1.5V1.5M-16,0H16M16,-1.5V1.5'"},
          "fill": {"signal": "datum.value == 'Mean MCMC estimate' ? '#5c5c5c' : 'transparent'"},
          "stroke": {"signal": "datum.value == 'Mean MCMC estimate' ? 'black' : '#a0a0a0'"},
          "opacity": {"value": 1}}}}}}}},
  {"mark": {"type": "tick", "orient": "horizontal", "size": 7, "thickness": 1.5, "color": "#a0a0a0"},
   "encoding": {"x": {"field": "year", "type": "quantitative", "scale": {"domain": [1994.85, 2021.3], "nice": false, "zero": false}, "axis": {"values": [1996,1998,2000,2002,2004,2006,2008,2010,2012,2014,2016,2018,2020], "format": "d", "title": null}},
    "y": {"field": "lo", "type": "quantitative", "scale": {"domain": [-1.109, 0.614], "nice": false, "zero": false}}}},
  {"mark": {"type": "tick", "orient": "horizontal", "size": 7, "thickness": 1.5, "color": "#a0a0a0"},
   "encoding": {"x": {"field": "year", "type": "quantitative", "scale": {"domain": [1994.85, 2021.3], "nice": false, "zero": false}, "axis": {"values": [1996,1998,2000,2002,2004,2006,2008,2010,2012,2014,2016,2018,2020], "format": "d", "title": null}},
    "y": {"field": "hi", "type": "quantitative", "scale": {"domain": [-1.109, 0.614], "nice": false, "zero": false}}}},
  {"mark": {"type": "line", "strokeWidth": 1},
   "encoding": {"x": {"field": "year", "type": "quantitative", "scale": {"domain": [1994.85, 2021.3], "nice": false, "zero": false}, "axis": {"values": [1996,1998,2000,2002,2004,2006,2008,2010,2012,2014,2016,2018,2020], "format": "d", "title": null}},
    "y": {"field": "mean", "type": "quantitative", "scale": {"domain": [-1.109, 0.614], "nice": false, "zero": false}},
    "stroke": {"datum": "Mean MCMC estimate"}}},
  {"mark": {"type": "point", "filled": true, "size": 75, "color": "#5c5c5c", "opacity": 1},
   "encoding": {"x": {"field": "year", "type": "quantitative", "scale": {"domain": [1994.85, 2021.3], "nice": false, "zero": false}, "axis": {"values": [1996,1998,2000,2002,2004,2006,2008,2010,2012,2014,2016,2018,2020], "format": "d", "title": null}},
    "y": {"field": "mean", "type": "quantitative", "scale": {"domain": [-1.109, 0.614], "nice": false, "zero": false}}}}
 ]}
],
"config": {
 "background": "#efefef",
 "font": "Liberation Sans",
 "view": {"fill": "white", "stroke": null},
 "title": {"font": "Liberation Sans", "fontSize": 23.5, "fontWeight": "normal", "color": "black", "anchor": "middle", "frame": "group"},
 "axis": {"domainColor": "black", "tickColor": "black", "labelColor": "black", "titleColor": "black", "labelFont": "Liberation Sans", "titleFont": "Liberation Sans", "labelFontSize": 14, "titleFontSize": 17, "titleFontWeight": "normal", "tickSize": 6, "domainWidth": 1, "tickWidth": 1, "gridColor": "#e6e6e6", "gridWidth": 1.5},
 "axisX": {"labelAngle": -90, "labelAlign": "right", "labelBaseline": "middle", "labelPadding": 6, "grid": false},
 "axisY": {"labelAngle": -90, "labelAlign": "center", "labelBaseline": "bottom", "labelPadding": 2, "titlePadding": 3, "grid": true, "format": ".1~f", "labelExpr": "replace(datum.label, '0.', '.')"},
 "legend": {"strokeColor": "black", "fillColor": "white", "padding": 7, "labelFont": "Liberation Sans", "labelFontSize": 14, "labelColor": "black", "symbolSize": 16, "symbolOffset": 25, "labelOffset": 40, "rowPadding": 16, "symbolStrokeWidth": 1.5, "cornerRadius": 0, "labelLimit": 300}
}
}
